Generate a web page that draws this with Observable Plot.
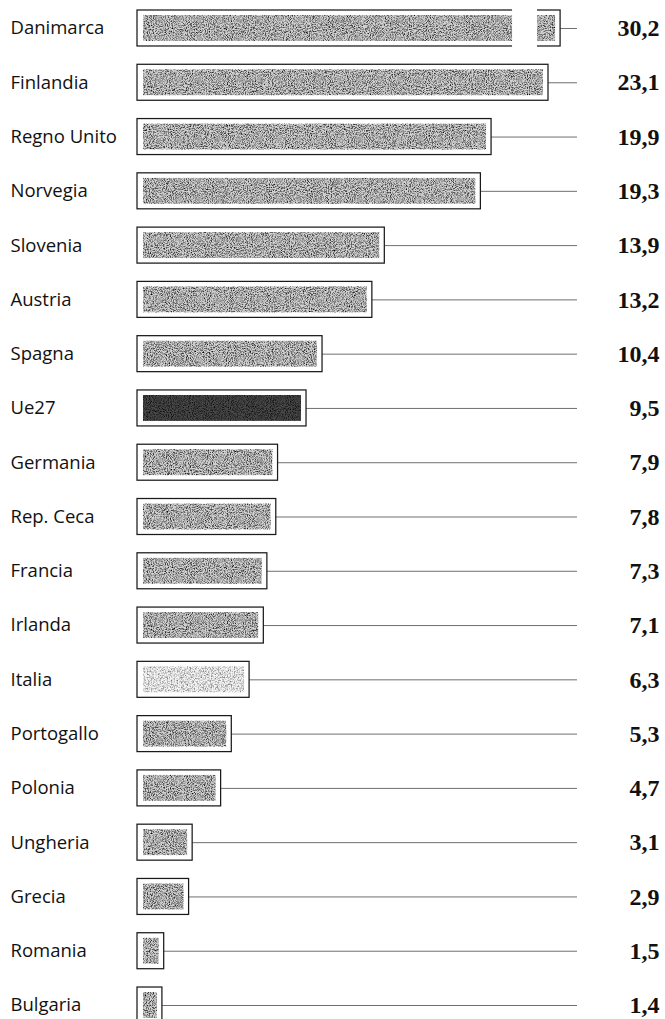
<!DOCTYPE html>
<html>
<head>
<meta charset="utf-8">
<script src="https://cdn.jsdelivr.net/npm/d3@7"></script>
<script src="https://cdn.jsdelivr.net/npm/@observablehq/plot@0.6"></script>
<style>
  html, body { margin: 0; padding: 0; background: #fff; }
  #chart svg { display: block; }
</style>
</head>
<body>
<div id="chart"></div>
<script>
// ---- data ----
const countries = ["Danimarca", "Finlandia", "Regno Unito", "Norvegia", "Slovenia", "Austria", "Spagna", "Ue27", "Germania", "Rep. Ceca", "Francia", "Irlanda", "Italia", "Portogallo", "Polonia", "Ungheria", "Grecia", "Romania", "Bulgaria"];
const values = [30.2, 23.1, 19.9, 19.3, 13.9, 13.2, 10.4, 9.5, 7.9, 7.8, 7.3, 7.1, 6.3, 5.3, 4.7, 3.1, 2.9, 1.5, 1.4];
const averageName = "Ue27";
const focusName = "Italia";

// axis break (scale units) for the bar that runs off the chart
const breakCap = 23.78;
const breakFrom = 21.08;
const breakTo = 22.48;
const leaderEnd = 24.73;

const toneNormal = "#d2d2d2", toneAverage = "#484848", toneFocus = "#f4f4f4";
const rows = countries.map((c, i) => ({
  country: c,
  value: values[i],
  shown: Math.min(values[i], breakCap),
  tone: c === averageName ? toneAverage : c === focusName ? toneFocus : toneNormal
}));

const fmt = v => v.toFixed(1).replace(".", ",");

const chart = Plot.plot({
  width: 665,
  height: 1019,
  marginLeft: 137,
  marginRight: 88,
  marginTop: 10,
  marginBottom: -4,
  x: { domain: [0, leaderEnd], axis: null },
  y: { domain: countries, axis: null, paddingInner: 0.337, paddingOuter: 0, round: false },
  color: { type: "identity" },
  marks: [
    Plot.ruleY(rows, { y: "country", x1: "shown", x2: leaderEnd, stroke: "#555", strokeWidth: 0.85 }),
    Plot.rectX(rows, { y: "country", x1: 0, x2: "shown", fill: "white", stroke: "#1a1a1a", strokeWidth: 1.25 }),
    Plot.rectX(rows, { y: "country", x1: 0, x2: "shown", fill: "tone", insetLeft: 6, insetRight: 5, insetTop: 5, insetBottom: 5 }),
    Plot.rectX(rows.filter(d => d.value > breakCap), { y: "country", x1: breakFrom, x2: breakTo, fill: "white", insetTop: -2, insetBottom: -2 }),
    Plot.text(rows, { y: "country", text: "country", frameAnchor: "left", dx: -127, textAnchor: "start", fontFamily: "'Open Sans', sans-serif", fontSize: 18.5, fill: "#111", style: "letter-spacing:1.1px" }),
    Plot.text(rows, { y: "country", text: d => fmt(d.value), frameAnchor: "right", dx: 82, textAnchor: "end", fontFamily: "'Liberation Serif', 'DejaVu Serif', serif", fontWeight: "bold", fontSize: 24, fill: "#111" })
  ]
});

// print-like grain texture for the bar fills
const svg = d3.select(chart);
const defs = svg.insert("defs", ":first-child");
function grain(id, slope, intercept, freq) {
  const f = defs.append("filter").attr("id", id)
    .attr("x", 0).attr("y", 0).attr("width", 1).attr("height", 1)
    .attr("color-interpolation-filters", "sRGB");
  f.append("feTurbulence").attr("type", "fractalNoise").attr("baseFrequency", freq)
    .attr("numOctaves", 3).attr("seed", 7).attr("result", "noise");
  f.append("feColorMatrix").attr("in", "noise").attr("type", "saturate").attr("values", 0).attr("result", "gray");
  const ct = f.append("feComponentTransfer").attr("in", "gray").attr("result", "contrast");
  ["feFuncR", "feFuncG", "feFuncB"].forEach(k => ct.append(k).attr("type", "linear").attr("slope", slope).attr("intercept", intercept));
  ct.append("feFuncA").attr("type", "table").attr("tableValues", "1 1");
  f.append("feBlend").attr("in", "SourceGraphic").attr("in2", "contrast").attr("mode", "multiply").attr("result", "mix");
  f.append("feComposite").attr("in", "mix").attr("in2", "SourceGraphic").attr("operator", "in");
}
grain("grain", 2.7, -0.55, 0.95);
grain("grainSoft", 1.6, 0.1, 0.7);
svg.selectAll("rect").each(function() {
  const fill = this.getAttribute("fill");
  if (fill === toneNormal || fill === toneAverage) this.setAttribute("filter", "url(#grain)");
  else if (fill === toneFocus) this.setAttribute("filter", "url(#grainSoft)");
});

document.getElementById("chart").appendChild(chart);
</script>
</body>
</html>
